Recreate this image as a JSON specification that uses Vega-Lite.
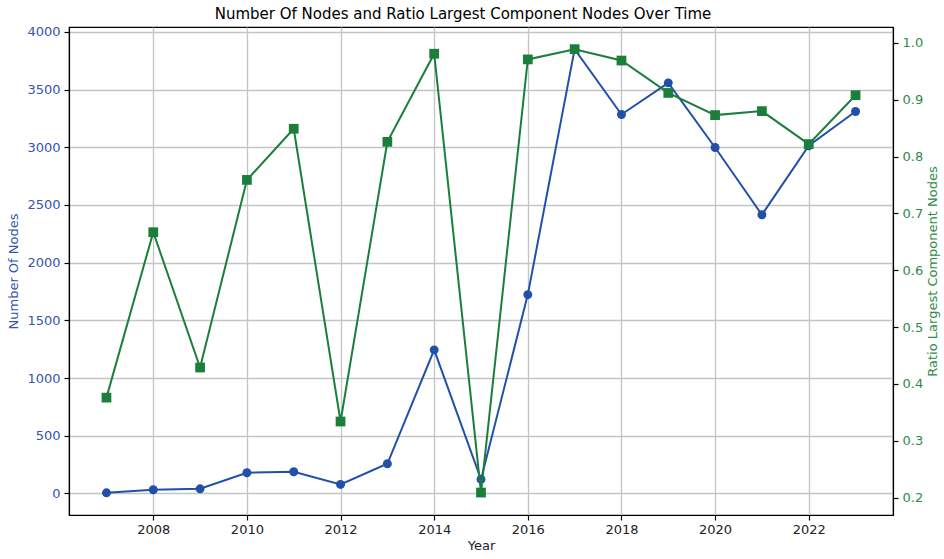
{
  "$schema": "https://vega.github.io/schema/vega-lite/v6.json",
  "width": 824,
  "height": 488,
  "autosize": {"type": "none"},
  "padding": {"left": 69, "top": 27, "right": 51, "bottom": 44},
  "background": "white",
  "config": {
    "font": "DejaVu Sans",
    "view": {"stroke": "black", "strokeWidth": 1.2},
    "axis": {
      "labelFont": "DejaVu Sans",
      "titleFont": "DejaVu Sans",
      "labelFontSize": 13,
      "titleFontSize": 13,
      "titleFontWeight": "normal",
      "domainColor": "black",
      "domainWidth": 1.2,
      "tickColor": "black",
      "tickSize": 5,
      "tickWidth": 1.2,
      "gridColor": "#c4c4c4",
      "gridWidth": 1.3
    }
  },
  "title": {
    "text": "Number Of Nodes and Ratio Largest Component Nodes Over Time",
    "font": "DejaVu Sans",
    "fontSize": 15,
    "fontWeight": "normal",
    "color": "black",
    "anchor": "middle",
    "dx": -18,
    "offset": 4
  },
  "data": {
    "values": [
      {"year": 2007, "nodes": 5, "ratio": 0.376},
      {"year": 2008, "nodes": 32, "ratio": 0.667},
      {"year": 2009, "nodes": 40, "ratio": 0.429},
      {"year": 2010, "nodes": 179, "ratio": 0.759},
      {"year": 2011, "nodes": 188, "ratio": 0.849},
      {"year": 2012, "nodes": 78, "ratio": 0.334},
      {"year": 2013, "nodes": 257, "ratio": 0.826},
      {"year": 2014, "nodes": 1244, "ratio": 0.981},
      {"year": 2015, "nodes": 121, "ratio": 0.209},
      {"year": 2016, "nodes": 1723, "ratio": 0.971},
      {"year": 2017, "nodes": 3850, "ratio": 0.989},
      {"year": 2018, "nodes": 3284, "ratio": 0.969},
      {"year": 2019, "nodes": 3558, "ratio": 0.912},
      {"year": 2020, "nodes": 2998, "ratio": 0.873},
      {"year": 2021, "nodes": 2415, "ratio": 0.880},
      {"year": 2022, "nodes": 3013, "ratio": 0.822},
      {"year": 2023, "nodes": 3310, "ratio": 0.908}
    ]
  },
  "encoding": {
    "x": {
      "field": "year",
      "type": "quantitative",
      "scale": {"domain": [2006.2, 2023.8], "nice": false, "zero": false},
      "axis": {
        "title": "Year",
        "values": [2008, 2010, 2012, 2014, 2016, 2018, 2020, 2022],
        "format": "d",
        "grid": true,
        "labelColor": "#222222",
        "titleColor": "#222222",
        "labelPadding": 3,
        "titlePadding": 3
      }
    }
  },
  "layer": [
    {
      "mark": {
        "type": "line",
        "color": "#2150A8",
        "strokeWidth": 2,
        "point": {"filled": true, "shape": "circle", "size": 80, "color": "#2150A8", "opacity": 1}
      },
      "encoding": {
        "y": {
          "field": "nodes",
          "type": "quantitative",
          "scale": {"domain": [-187, 4042], "nice": false, "zero": false},
          "axis": {
            "title": "Number Of Nodes",
            "orient": "left",
            "values": [0, 500, 1000, 1500, 2000, 2500, 3000, 3500, 4000],
            "format": "d",
            "grid": true,
            "labelColor": "#3555AD",
            "titleColor": "#3555AD",
            "labelPadding": 4,
            "titlePadding": 6
          }
        }
      }
    },
    {
      "mark": {
        "type": "line",
        "color": "#1B7F3B",
        "strokeWidth": 2,
        "point": {"filled": true, "shape": "square", "size": 95, "color": "#1B7F3B", "opacity": 1}
      },
      "encoding": {
        "y": {
          "field": "ratio",
          "type": "quantitative",
          "scale": {"domain": [0.1695, 1.028], "nice": false, "zero": false},
          "axis": {
            "title": "Ratio Largest Component Nodes",
            "orient": "right",
            "values": [0.2, 0.3, 0.4, 0.5, 0.6, 0.7, 0.8, 0.9, 1.0],
            "format": ".1f",
            "grid": false,
            "labelColor": "#2E8B47",
            "titleColor": "#2E8B47",
            "titleAngle": 270,
            "titleBaseline": "top",
            "labelPadding": 4,
            "titlePadding": 4
          }
        }
      }
    }
  ],
  "resolve": {"scale": {"y": "independent"}}
}
